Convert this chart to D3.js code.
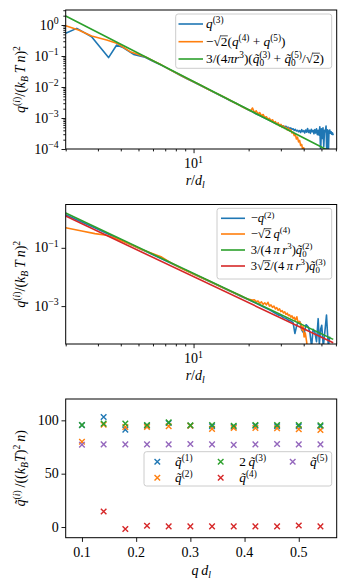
<!DOCTYPE html>
<html>
<head>
<meta charset="utf-8">
<script src="https://cdn.jsdelivr.net/npm/d3@7"></script>
<style>
body { margin: 0; background: #fff; }
text { font-family: "Liberation Serif", "DejaVu Serif", serif; fill: #000; }
</style>
</head>
<body>
<div id="fig"></div>
<script>
"use strict"

// ---- panel 1 : q(r) on log-log, [r/d_l, value]
const top_q3 = [[2,0.54],[2.3,0.78],[2.77,0.42],[3.43,0.089],[3.8,0.226],[4.14,0.185],[4.7,0.113],[5.43,0.091],[6,0.068],[6.7,0.05],[7.5,0.035],[8.45,0.024],[9.2,0.0185],[10,0.0146],[11,0.011],[12,0.0084],[13,0.0066],[14,0.0053],[15,0.0043],[16,0.0035],[17,0.003],[18,0.0025],[19,0.00215],[20,0.0018],[21,0.00158],[22,0.00135],[23,0.0012],[24,0.00105],[25,0.00095],[26,0.00085],[27,0.00075],[28,0.00068],[28.5,0.00064],[29,0.00062],[29.5,0.00058],[30,0.0006],[30.5,0.00055],[31,0.00056],[31.5,0.00051],[32,0.00054],[32.5,0.00049],[33,0.0005],[33.5,0.00046],[34,0.00048],[34.5,0.00043],[35,0.00045],[35.5,0.0004],[36,0.00043],[36.5,0.00038],[37,0.0004],[37.5,0.00036],[38,0.00039],[38.5,0.00034],[39,0.00042],[39.5,0.00036],[40,0.00039],[40.5,0.00033],[41,0.00041],[41.5,0.00035],[42,0.00046],[42.5,0.00034],[43,0.0004],[43.5,0.00032],[44,0.00043],[44.5,0.00036],[45,0.0004],[45.5,0.00031],[46,0.00042],[46.5,0.00033],[47,0.00045],[47.5,0.00029],[48,0.0004],[48.5,0.00028],[49,0.00052],[49.5,0.00008],[50,0.00045],[50.5,0.00022],[51,0.00048],[51.5,0.00012],[52,0.0004],[52.5,0.00036],[53,0.00055],[53.5,0.00006],[54,0.00042],[54.5,0.00005],[55,0.00038],[55.5,0.00041],[56,0.00032],[56.5,0.00036],[57,0.0003],[57.5,0.00033],[58,0.00028]];
const top_q45 = [[2,0.95],[2.35,0.69],[2.77,0.44],[3.35,0.33],[3.8,0.26],[4.5,0.138],[5.43,0.095],[6,0.07],[6.7,0.051],[7.5,0.035],[8.45,0.0245],[9.2,0.0188],[10,0.0148],[11,0.0112],[12,0.0085],[13,0.0067],[14,0.0054],[15,0.0044],[16,0.0036],[17,0.003],[18,0.0025],[19,0.0021],[20,0.00185],[20.5,0.0017],[21,0.0021],[21.5,0.0015],[22,0.0017],[22.5,0.00135],[23,0.0015],[23.5,0.0012],[24,0.0013],[24.5,0.00105],[25,0.0011],[25.5,0.00092],[26,0.00098],[26.5,0.0008],[27,0.00088],[27.5,0.00072],[28,0.00076],[28.5,0.00062],[29,0.0007],[29.5,0.00056],[30,0.00062],[30.5,0.0005],[31,0.00056],[31.5,0.00046],[32,0.0005],[32.5,0.00041],[33,0.00047],[33.5,0.00038],[34,0.00042],[34.5,0.00033],[35,0.00035],[35.5,0.00027],[36,0.0003],[36.5,0.00021],[37,0.00024],[37.5,0.00017],[38,0.00019],[38.5,0.00013],[39,0.00014],[39.5,0.000095],[40,0.00011],[40.5,0.00007],[41,0.00005]];
const top_fit = [[2,1.95],[10,0.01503],[52.5,0.0001],[60,0.000067]];

// ---- panel 2
const mid_q2 = [[2,1.37],[2.5,0.72],[3,0.43],[3.5,0.275],[4,0.188],[4.5,0.133],[5,0.098],[5.5,0.075],[6,0.058],[7,0.0365],[8,0.0247],[9,0.0172],[10,0.0127],[12,0.0074],[14,0.0047],[16,0.00315],[18,0.00222],[20,0.00165],[22,0.00124],[24,0.00095],[26,0.00074],[27,0.00065],[28,0.00057],[29,0.0005],[30,0.00047],[31,0.0004],[32,0.00038],[33,0.00033],[34,0.00031],[35,0.00027],[35.8,0.000115],[36.8,0.00024],[38.1,0.00029],[39,0.00015],[40.2,0.000115],[41.2,0.00023],[42.3,0.000195],[43.2,0.00013],[44.2,0.00004],[45,0.00016],[46,0.00013],[47,0.00006],[48,0.00037],[48.7,0.00005],[49.5,0.00016],[50.2,0.00022],[51.2,0.00004],[52.2,0.00013],[53.3,0.00049],[54,0.00011],[54.6,0.00004],[55.5,0.00009]];
const mid_q4 = [[2,0.49],[2.45,0.376],[2.89,0.307],[3.35,0.27],[3.57,0.234],[4.06,0.17],[4.6,0.125],[5.2,0.087],[6,0.063],[6.7,0.048],[7.5,0.031],[8.45,0.0205],[9.2,0.016],[10,0.0127],[11,0.0096],[12,0.0075],[13,0.0059],[14,0.0047],[15,0.0039],[16,0.0032],[17,0.0027],[18,0.0023],[19,0.00195],[20,0.0017],[21,0.0016],[21.5,0.00165],[22,0.0014],[22.5,0.0015],[23,0.00125],[23.5,0.0014],[24,0.00115],[24.5,0.0013],[25,0.0011],[25.5,0.00135],[26,0.001],[26.5,0.0011],[27,0.0009],[27.5,0.001],[28,0.0008],[28.5,0.00088],[29,0.00072],[29.5,0.0008],[30,0.00065],[30.5,0.0007],[31,0.00058],[31.5,0.00064],[32,0.00052],[32.5,0.00057],[33,0.00047],[33.5,0.0005],[34,0.00042],[34.5,0.00046],[35,0.00038],[35.5,0.00041],[36,0.00033],[36.7,0.00043],[37.2,0.00027],[37.8,0.0003],[38.6,0.00025],[39.2,0.00015],[39.7,0.0002],[40.2,0.000087],[40.8,0.00012],[41.5,0.00006],[42,0.00003]];
const mid_fit2 = [[2,1.56],[58,0.000072]];
const mid_fit3 = [[2,1.23],[58,0.000055]];

// ---- panel 3 : Fourier coefficients vs q d_l
const qd = [0.10,0.14,0.18,0.22,0.26,0.30,0.34,0.38,0.42,0.46,0.50,0.54];
const qt1 = [95.5,103.2,91.3,95,97.5,95,94.5,94,95,94.5,94.5,94.4];
const qt2 = [80,96,93.8,93.8,94.4,95,92,92.8,92.8,92.5,91.6,91];
const qt3x2 = [95.7,96.9,96.9,95.7,98.1,95.4,95.7,95,95.7,95.7,95.7,95.4];
const qt4 = [null,14.6,-1.9,1.2,0.6,0.6,0.6,0.6,0.6,0.6,1.5,0.6];
const qt5 = [77.2,77.5,77.5,77.5,77.5,77.8,77.5,77,77.5,77.8,77.5,77.5];

const C = ["#1f77b4", "#ff7f0e", "#2ca02c", "#d62728", "#9467bd"];
const FS = 14;     // ticks and axis labels
const LFS = 13.3;  // legends
const W = 347, H = 586;
const L = 65.7, R = 336.7;
const TS = "\u2009"; // thin space

const svg = d3.select("#fig").append("svg")
  .attr("width", W).attr("height", H);

// small mathtext: ^{..} / _{..}, letters italic, √2 gets its bar
function tex(parent, str, o) {
  const size = o.size || FS;
  const t = parent.append("text")
    .attr("x", o.x).attr("y", o.y)
    .attr("text-anchor", o.anchor || "start")
    .style("font-size", size + "px")
    .style("white-space", "pre");
  if (o.transform) t.attr("transform", o.transform);
  const groups = [];
  let buf = "";
  for (let i = 0; i < str.length; i++) {
    const c = str[i];
    if (c === "^" || c === "_") {
      if (buf) { groups.push({s: buf, k: "n"}); buf = ""; }
      let s;
      if (str[i + 1] === "{") { const j = str.indexOf("}", i); s = str.slice(i + 2, j); i = j; }
      else { s = str[i + 1]; i++; }
      groups.push({s: s, k: c === "^" ? "sup" : "sub"});
    } else buf += c;
  }
  if (buf) groups.push({s: buf, k: "n"});
  let cur = 0, prev = null;
  const bars = [];
  groups.forEach(gr => {
    const shift = gr.k === "sup" ? -0.38 * size : gr.k === "sub" ? 0.22 * size : 0;
    const fs = gr.k === "n" ? size : 0.7 * size;
    const runs = gr.s.match(/\u221A|[A-Za-zπ\u0303]+|[^A-Za-zπ\u0303\u221A]+/g);
    gr.nodes = [];
    let afterRoot = false;
    runs.forEach((run, ri) => {
      const ts = t.append("tspan")
        .style("font-size", fs + "px")
        .style("font-style", /[A-Za-zπ]/.test(run) ? "italic" : "normal");
      if (afterRoot) {
        // split the radicand digit off so we can put a bar over it
        ts.text(run[0]);
        bars.push({node: ts.node(), size: fs});
        if (run.length > 1) {
          gr.nodes.push(ts.node());
          const rest = t.append("tspan").text(run.slice(1)).style("font-size", fs + "px");
          gr.nodes.push(rest.node());
          afterRoot = false;
          return;
        }
      } else ts.text(run);
      afterRoot = run === "\u221A";
      if (ri === 0) { ts.attr("dy", shift - cur); cur = shift; }
      gr.nodes.push(ts.node());
    });
    if (gr.k === "sup" && prev && prev.k === "sub") {
      const w = d3.sum(prev.nodes, n => n.getComputedTextLength());
      d3.select(gr.nodes[0]).attr("dx", -w);
    }
    prev = gr;
  });
  bars.forEach(b => {
    const e = b.node.getExtentOfChar(0);
    parent.append("line")
      .attr("x1", e.x - 0.6).attr("x2", e.x + e.width + 0.3)
      .attr("y1", o.y - 0.74 * b.size).attr("y2", o.y - 0.74 * b.size)
      .attr("stroke", "#000").attr("stroke-width", 0.7);
  });
  return t;
}

function frame(g, top, bottom) {
  g.append("rect")
    .attr("x", L).attr("y", top)
    .attr("width", R - L).attr("height", bottom - top)
    .attr("fill", "none").attr("stroke", "#000").attr("stroke-width", 1);
}

function ticks(g, axis, tr) {
  const a = g.append("g").attr("transform", tr).call(axis);
  a.select(".domain").remove();
  a.selectAll("line").attr("stroke", "#000").attr("stroke-width", 0.9);
  a.selectAll("text").remove();
  return a;
}

function legendBox(g, x0, y0, x1, y1) {
  g.append("rect")
    .attr("x", x0).attr("y", y0).attr("width", x1 - x0).attr("height", y1 - y0)
    .attr("rx", 2.5)
    .attr("fill", "#fff").attr("fill-opacity", 0.8)
    .attr("stroke", "#cccccc").attr("stroke-width", 1);
}

const minorDec = (lo, hi) => {
  const out = [];
  for (let e = lo; e <= hi; e++) for (let m = 2; m <= 9; m++) out.push(m * Math.pow(10, e));
  return out;
};

function logPanel(cfg) {
  const g = svg.append("g");
  const x = d3.scaleLog().domain([2, 60.6]).range([L, R]);
  const y = d3.scaleLog().domain(cfg.ydom).range([cfg.bottom, cfg.top]);
  const id = "clip" + Math.round(cfg.top);
  g.append("clipPath").attr("id", id).append("rect")
    .attr("x", L).attr("y", cfg.top).attr("width", R - L).attr("height", cfg.bottom - cfg.top);

  const line = d3.line().x(d => x(d[0])).y(d => y(d[1]));
  const plot = g.append("g").attr("clip-path", "url(#" + id + ")");
  cfg.series.forEach(s => {
    plot.append("path").datum(s.data)
      .attr("d", line).attr("fill", "none")
      .attr("stroke", s.color).attr("stroke-width", 1.6)
      .attr("stroke-linejoin", "round");
  });

  // x ticks
  const xMinor = [2,3,4,5,6,7,8,9,20,30,40,50,60];
  ticks(g, d3.axisBottom(x).tickValues(xMinor).tickSize(2.4), `translate(0,${cfg.bottom})`);
  ticks(g, d3.axisBottom(x).tickValues([10]).tickSize(4.2), `translate(0,${cfg.bottom})`);
  tex(g, "10^{1}", {x: x(10), y: cfg.bottom + 19, anchor: "middle"});

  // y ticks
  const ymin = y.domain()[0], ymax = y.domain()[1];
  if (cfg.yminor) {
    const ym = minorDec(-5, 0).filter(v => v >= ymin && v <= ymax);
    ticks(g, d3.axisLeft(y).tickValues(ym).tickSize(2.4), `translate(${L},0)`);
  }
  ticks(g, d3.axisLeft(y).tickValues(cfg.ymajor).tickSize(4.2), `translate(${L},0)`);
  cfg.ymajor.forEach(v => {
    const e = Math.round(Math.log10(v));
    tex(g, "10^{" + (e < 0 ? "\u2212" + (-e) : e) + "}", {x: L - 7, y: y(v) + 4.5, anchor: "end"});
  });

  frame(g, cfg.top, cfg.bottom);

  tex(g, "r/d_{l}", {x: (L + R) / 2 - 6, y: cfg.bottom + 36, anchor: "middle"});
  const cy = (cfg.top + cfg.bottom) / 2;
  tex(g, "q^{(i)}/(k_{B}" + TS + "T" + TS + "n)^{2}", {x: 0, y: 0, anchor: "middle",
    transform: `translate(25,${cy}) rotate(-90)`});

  // legend
  const lg = cfg.legend;
  legendBox(g, lg.box[0], lg.box[1], lg.box[2], lg.box[3]);
  cfg.series.forEach((s, i) => {
    const yy = lg.rows[i];
    g.append("line").attr("x1", lg.hx[0]).attr("x2", lg.hx[1])
      .attr("y1", yy).attr("y2", yy)
      .attr("stroke", s.color).attr("stroke-width", 1.6);
    tex(g, s.label, {x: lg.tx, y: yy + 4, size: lg.size});
  });
}

logPanel({
  top: 10, bottom: 149, ydom: [1e-4, 3.05], yminor: true,
  ymajor: [1, 1e-1, 1e-2, 1e-3, 1e-4],
  series: [
    {data: top_q3, color: C[0], label: "q^{(3)}"},
    {data: top_q45, color: C[1], label: "\u2212\u221A2(q^{(4)} + q^{(5)})"},
    {data: top_fit, color: C[2], label: "3/(4πr^{3})(q\u0303_{0}^{(3)} + q\u0303_{0}^{(5)}/\u221A2)"}
  ],
  legend: {box: [175.7, 14, 331.7, 68.3], rows: [24, 41.7, 59], hx: [178.5, 203], tx: 206, size: LFS}
});

logPanel({
  top: 204.5, bottom: 344, ydom: [5e-5, 3.07], yminor: false,
  ymajor: [1e-1, 1e-3],
  series: [
    {data: mid_q2, color: C[0], label: "\u2212q^{(2)}"},
    {data: mid_q4, color: C[1], label: "\u2212\u221A2" + TS + "q^{(4)}"},
    {data: mid_fit2, color: C[2], label: "3/(4" + TS + "π" + TS + "r^{3})q\u0303_{0}^{(2)}"},
    {data: mid_fit3, color: C[3], label: "3\u221A2/(4" + TS + "π" + TS + "r^{3})q\u0303_{0}^{(3)}"}
  ],
  legend: {box: [217, 208.3, 331.7, 279], rows: [218.3, 234, 250, 266], hx: [221, 245], tx: 250.7, size: 12.6}
});

// ---- panel 3
(function () {
  const top = 399, bottom = 537.7;
  const g = svg.append("g");
  const x = d3.scaleLinear().domain([0.07, 0.57]).range([L, R]);
  const y = d3.scaleLinear().domain([-10, 120]).range([bottom, top]);

  const cross = d3.symbol().type(d3.symbolX).size(22);
  const sets = [qt1, qt2, qt3x2, qt4, qt5];
  sets.forEach((vals, i) => {
    g.append("g").selectAll("path")
      .data(qd.map((q, k) => [q, vals[k]]).filter(d => d[1] != null))
      .join("path")
      .attr("d", cross)
      .attr("transform", d => `translate(${x(d[0])},${y(d[1])})`)
      .attr("fill", "none").attr("stroke", C[i]).attr("stroke-width", 1.4);
  });

  ticks(g, d3.axisBottom(x).tickValues([0.1, 0.2, 0.3, 0.4, 0.5]).tickSize(4.2), `translate(0,${bottom})`);
  ticks(g, d3.axisLeft(y).tickValues([0, 50, 100]).tickSize(4.2), `translate(${L},0)`);
  [0.1, 0.2, 0.3, 0.4, 0.5].forEach(v => tex(g, String(v), {x: x(v), y: bottom + 19, anchor: "middle"}));
  [0, 50, 100].forEach(v => tex(g, String(v), {x: L - 7, y: y(v) + 4.5, anchor: "end"}));
  frame(g, top, bottom);

  tex(g, "q" + TS + "d_{l}", {x: (L + R) / 2, y: bottom + 37, anchor: "middle"});
  tex(g, "q\u0303^{(i)}" + TS + "/((k_{B}T)^{2}" + TS + "n)", {x: 0, y: 0, anchor: "middle",
    transform: `translate(25,${(top + bottom) / 2}) rotate(-90)`});

  legendBox(g, 144, 451.7, 331.7, 486);
  const items = [
    {i: 0, mx: 157.3, tx: 175, ry: 461.7, label: "q\u0303^{(1)}"},
    {i: 1, mx: 157.3, tx: 175, ry: 477.7, label: "q\u0303^{(2)}"},
    {i: 2, mx: 220.7, tx: 239.3, ry: 461.7, label: "2" + TS + "q\u0303^{(3)}"},
    {i: 3, mx: 220.7, tx: 239.3, ry: 477.7, label: "q\u0303^{(4)}"},
    {i: 4, mx: 292.7, tx: 310, ry: 461.7, label: "q\u0303^{(5)}"}
  ];
  items.forEach(it => {
    g.append("path").attr("d", cross)
      .attr("transform", `translate(${it.mx},${it.ry})`)
      .attr("fill", "none").attr("stroke", C[it.i]).attr("stroke-width", 1.4);
    tex(g, it.label, {x: it.tx, y: it.ry + 4, size: LFS});
  });
})();
</script>
</body>
</html>
